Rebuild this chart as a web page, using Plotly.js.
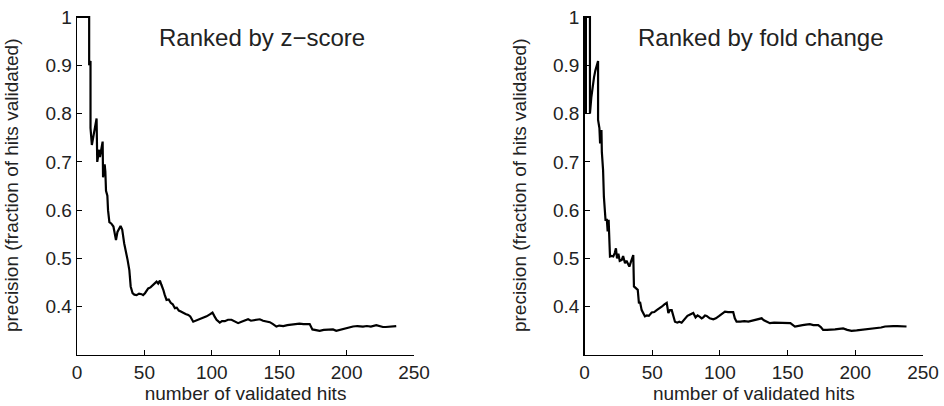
<!DOCTYPE html>
<html>
<head>
<meta charset="utf-8">
<script src="https://cdn.plot.ly/plotly-3.0.1.min.js"></script>
<style>html,body{margin:0;padding:0;background:#fff;}#chart{width:944px;height:406px;}</style>
</head>
<body>
<div id="chart"></div>
<script>
// Ranked by z-score: number of validated hits vs precision
var zHits = [0,9,9,10,10,11,14.5,15,16.5,17,19,19.3,20.5,21,21.5,22.5,23,24,25.5,27,28.9,30,32.3,33.5,35,36.8,37.5,38.8,39.8,41.2,42.5,44.2,46,47.9,49,50.4,52.8,54.5,56.5,58,59,60.2,61.5,62.5,63.5,64,65,66.4,68,69.5,71,72.6,74,75.5,77,78.8,80.5,82.5,84,86.2,88,90,92,94,96.1,98.5,100.5,102,103.5,105.9,107.5,109.6,112,114.6,117,119.5,122,124.5,126.9,129,131,133,135.6,138,140.5,143,145.4,147.9,150,153,156,159,162.7,165,168,170.5,172.6,174.6,177,180,183,186,189.9,192.3,195,197.5,199.8,202,204.7,208,212.1,215,218,222,224.5,226.9,229,232,234.5,236.8];
var zPrec = [1,1,0.9,0.909,0.77,0.735,0.79,0.70,0.725,0.71,0.742,0.668,0.695,0.68,0.64,0.63,0.60,0.575,0.572,0.566,0.538,0.555,0.567,0.56,0.531,0.511,0.497,0.476,0.442,0.428,0.425,0.424,0.427,0.426,0.424,0.428,0.438,0.440,0.445,0.450,0.452,0.448,0.454,0.446,0.440,0.435,0.425,0.414,0.415,0.408,0.405,0.397,0.398,0.392,0.390,0.387,0.385,0.383,0.380,0.369,0.371,0.373,0.375,0.378,0.380,0.384,0.388,0.380,0.373,0.367,0.370,0.370,0.373,0.373,0.370,0.366,0.369,0.372,0.374,0.371,0.372,0.373,0.374,0.371,0.369,0.368,0.364,0.359,0.361,0.360,0.362,0.363,0.364,0.365,0.364,0.364,0.364,0.353,0.352,0.350,0.352,0.353,0.353,0.350,0.352,0.354,0.355,0.357,0.359,0.360,0.359,0.360,0.359,0.362,0.360,0.358,0.358,0.359,0.360,0.360];

// Ranked by fold change
var fHits = [1,1,4,4,5,6,7,8,9,10,10,11,11.5,12.5,12.8,13.5,13.7,14.3,14.9,15.5,16.5,17.1,17.8,18.3,18.8,20,21.2,22.3,23.2,24,25,26,27.5,28.5,29.9,31,33.1,34.5,36,36.5,37.5,39.3,40.2,41,42.2,43.5,44.6,46,47.5,49.6,51.5,53.3,55,57,59,60.7,61.9,63.1,64.4,65.5,66.8,68.5,70,71.7,74,76,78,80.3,82,83.5,85.2,86.5,87.7,89,90.2,92.5,95.1,97,99.5,101.5,103.7,106,109.8,111,112.3,115,118,121,124,127,129,130.8,132.5,134.5,136.9,140,143,146.7,149,152,155.4,158,161,163.5,166.4,169,172.6,174.5,176.2,179,182,185,188,191,194,197.2,201,205,209,213.1,216,219,222,225.5,228,231,234,237.8];
var fPrec = [0.8,1,1,0.8,0.833,0.857,0.875,0.889,0.9,0.909,0.787,0.77,0.738,0.766,0.72,0.697,0.683,0.628,0.607,0.58,0.58,0.556,0.58,0.52,0.504,0.505,0.504,0.511,0.521,0.50,0.51,0.495,0.497,0.505,0.490,0.495,0.483,0.495,0.507,0.442,0.44,0.435,0.407,0.41,0.393,0.385,0.380,0.382,0.381,0.388,0.389,0.393,0.396,0.400,0.405,0.408,0.387,0.393,0.393,0.38,0.369,0.367,0.369,0.367,0.375,0.381,0.384,0.387,0.378,0.382,0.379,0.376,0.378,0.382,0.381,0.376,0.374,0.376,0.381,0.386,0.390,0.389,0.389,0.376,0.369,0.369,0.370,0.369,0.371,0.372,0.374,0.376,0.372,0.369,0.366,0.367,0.367,0.366,0.367,0.366,0.359,0.361,0.362,0.363,0.364,0.362,0.362,0.358,0.352,0.352,0.352,0.353,0.354,0.355,0.352,0.350,0.351,0.352,0.353,0.355,0.356,0.357,0.359,0.360,0.360,0.360,0.360,0.359];

var xTicks = [0,50,100,150,200,250];
var xTickText = ['0','50','100','150','200','250'];
var yTicks = [0.4,0.5,0.6,0.7,0.8,0.9,1];
var yTickText = ['0.4','0.5','0.6','0.7','0.8','0.9','1'];
var panelTitles = ['Ranked by z\u2212score','Ranked by fold change'];
var xTitle = 'number of validated hits';
var yTitle = 'precision (fraction of hits validated)';

var FONT = 'Liberation Sans, Arial, Helvetica, sans-serif';
var TXT = '#222222';

var traces = [
  {x: zHits, y: zPrec, type: 'scatter', mode: 'lines', line: {color: '#000', width: 2.2}, xaxis: 'x', yaxis: 'y', hoverinfo: 'skip'},
  {x: fHits, y: fPrec, type: 'scatter', mode: 'lines', line: {color: '#000', width: 2.2}, xaxis: 'x2', yaxis: 'y2', hoverinfo: 'skip'}
];

function xa(dom, anchor) {
  return {domain: dom, anchor: anchor, range: [0, 250], tickvals: xTicks, ticktext: xTickText,
    ticks: 'inside', ticklen: 5, tickwidth: 1, tickcolor: '#000', showline: true, linecolor: '#000', linewidth: 1.3,
    showgrid: false, zeroline: false, mirror: false, tickfont: {family: FONT, size: 19, color: TXT},
    title: {text: xTitle, font: {family: FONT, size: 19, color: TXT}, standoff: 0}};
}
function ya(dom, anchor) {
  return {domain: dom, anchor: anchor, range: [0.3, 1.003], tickvals: yTicks, ticktext: yTickText,
    ticks: 'inside', ticklen: 5, tickwidth: 1, tickcolor: '#000', showline: true, linecolor: '#000', linewidth: 1.3,
    showgrid: false, zeroline: false, mirror: false, tickfont: {family: FONT, size: 19, color: TXT},
    title: {text: yTitle, font: {family: FONT, size: 19, color: TXT}, standoff: 21}};
}

var yDom = [0.1256, 0.9617];
var layout = {
  width: 944, height: 406,
  margin: {l: 0, r: 0, t: 0, b: 0},
  paper_bgcolor: '#fff', plot_bgcolor: '#fff',
  showlegend: false,
  xaxis: xa([0.0816, 0.4386], 'y'),
  yaxis: ya(yDom, 'x'),
  xaxis2: xa([0.6192, 0.9778], 'y2'),
  yaxis2: ya(yDom, 'x2'),
  annotations: [
    {text: panelTitles[0], xref: 'x', yref: 'y', x: 137, y: 0.957, showarrow: false, xanchor: 'center', yanchor: 'middle', font: {family: FONT, size: 24, color: TXT}},
    {text: panelTitles[1], xref: 'x2', yref: 'y2', x: 130, y: 0.957, showarrow: false, xanchor: 'center', yanchor: 'middle', font: {family: FONT, size: 24, color: TXT}}
  ]
};

Plotly.newPlot('chart', traces, layout, {staticPlot: true, displayModeBar: false});
</script>
</body>
</html>
